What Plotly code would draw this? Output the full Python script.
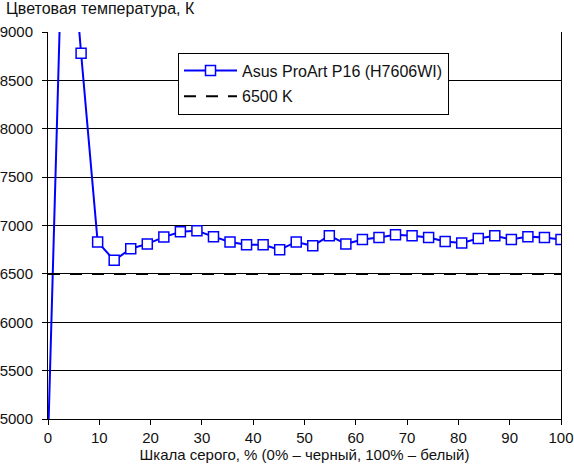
import plotly.graph_objects as go

gray_pct = [round(i * 100 / 31, 3) for i in range(32)]
color_temp = [4750, 10850, 8780, 6830, 6640, 6760, 6810, 6880, 6935, 6945,
              6885, 6830, 6800, 6800, 6750, 6830, 6790, 6895, 6810, 6855,
              6875, 6905, 6895, 6875, 6835, 6820, 6865, 6895, 6855, 6885,
              6875, 6855]
ref_x = [0, 100]
ref_y = [6500, 6500]

series_name = "Asus ProArt P16 (H7606WI)"
ref_name = "6500 K"
title_text = "Цветовая температура, К"
x_title = "Шкала серого, % (0% – черный, 100% – белый)"

FONT = "Arial, Liberation Sans, sans-serif"
TXT = "#111"

fig = go.Figure()
fig.add_trace(go.Scatter(
    x=gray_pct, y=color_temp, name=series_name, mode="lines+markers",
    line=dict(color="#0000ff", width=2),
    marker=dict(symbol="square", size=10, color="white",
                line=dict(color="#0000ff", width=1.5)),
    legendgroup="a",
))
fig.add_trace(go.Scatter(
    x=ref_x, y=ref_y, name=ref_name, mode="lines",
    line=dict(color="black", width=2, dash="12px,10px"),
    legendgroup="b",
))

fig.update_layout(
    width=574, height=469,
    margin=dict(l=48, r=13, t=32, b=50, autoexpand=False),
    paper_bgcolor="white", plot_bgcolor="white",
    font=dict(family=FONT, size=15, color=TXT),
    title=dict(text=title_text, x=6/574, xref="container", xanchor="left",
               y=1 - 8/469, yref="container", yanchor="middle",
               automargin=False,
               font=dict(family=FONT, size=16, color=TXT)),
    showlegend=True,
    legend=dict(x=(178-48)/513, y=(419-52.5)/387, xanchor="left", yanchor="top",
                bgcolor="white", bordercolor="black", borderwidth=1,
                font=dict(family=FONT, size=16, color=TXT),
                traceorder="grouped", tracegroupgap=2, itemwidth=53),
)
fig.update_xaxes(range=[0, 100], dtick=10, tick0=0, showgrid=False,
                 showline=True, linecolor="black", linewidth=1,
                 ticks="outside", ticklen=5, tickcolor="black",
                 zeroline=False, automargin=False,
                 title=dict(text=x_title, standoff=0,
                            font=dict(family=FONT, size=15, color=TXT)),
                 tickfont=dict(family=FONT, size=15, color=TXT))
fig.update_yaxes(range=[5000, 9000], dtick=500, tick0=5000, showgrid=True,
                 gridcolor="black", gridwidth=1,
                 showline=True, linecolor="black", linewidth=1, mirror=True,
                 ticks="outside", ticklen=5, tickcolor="black",
                 zeroline=False, ticklabelstandoff=6, automargin=False,
                 tickfont=dict(family=FONT, size=15, color=TXT))

fig.write_html("out.html",
               config={"displayModeBar": False},
               post_script="document.body.style.margin='0';document.body.style.overflow='hidden';")
